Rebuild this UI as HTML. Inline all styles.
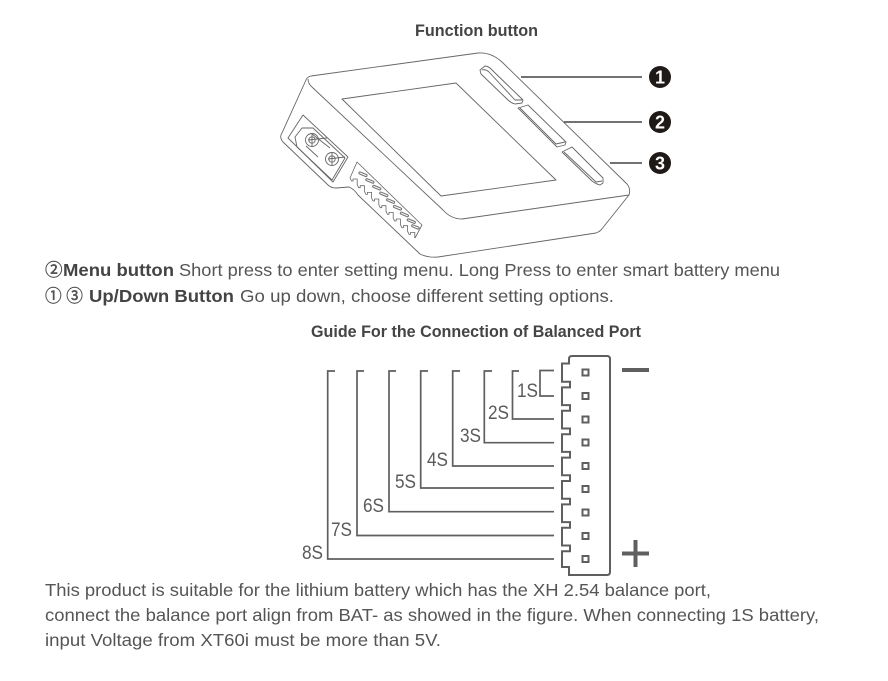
<!DOCTYPE html>
<html>
<head>
<meta charset="utf-8">
<style>
html,body{margin:0;padding:0;background:#fff;}
svg{display:block;}
text{font-family:"Liberation Sans","Noto Sans CJK SC",sans-serif;fill:#555;}
.b{font-weight:bold;fill:#444;}
.t{font-size:17.5px;}
.s{font-size:19px;fill:#5a5a5a;}
.n{font-size:18px;font-weight:bold;fill:#fff;text-anchor:middle;}
</style>
</head>
<body>
<svg width="888" height="681" viewBox="0 0 888 681" xmlns="http://www.w3.org/2000/svg">
<rect width="888" height="681" fill="#fff"/>

<text x="415" y="36" class="b" font-size="17" textLength="123" lengthAdjust="spacingAndGlyphs">Function button</text>

<!-- device -->
<g fill="none" stroke="#666" stroke-width="0.9" stroke-linejoin="round">
<path d="M311 76 L478 53 Q491 52 502 62 L627 184 Q631 189 629 195 L601 230 Q599 232 596 233 L438 257 Q428 258 420 254 L358 195 Q354 189 349 187 L336 188 Q331 188 328 185 L283 142 Q279 137 282 133 L306 80 Q307 77 311 76 Z"/>
<path d="M308 79 Q308 84 313 88 L443 210 Q451 219 462 219 L629 195"/>
<path d="M342 99 L456 83 L556 180 L441 196 Z"/>
<path d="M303 115 L348 157 L333 182 L288 138 Z"/>
<path d="M295 137 L302 128 L313 128 L345 158 L332 180 L297 147 Z"/>
<circle cx="312" cy="140" r="6.5"/><circle cx="312" cy="140" r="3.2"/>
<circle cx="332" cy="159" r="6.5"/><circle cx="332" cy="159" r="3.2"/>
<path d="M308 140 L327 138 M328 159 L345 157 M312 134 L330 148 M306 146 L318 157 M332 153 L332 165 M312 134 L312 146"/>
<path stroke-width="0.8" d="M350 178 L357 162 L422 225 L415 238 M350 178 l1.500 3 h1.500 v-2 h4.200 v5.670 l1.500 3 h1.500 v-2 h4.200 v5.670 l1.500 3 h1.500 v-2 h4.200 v5.670 l1.500 3 h1.500 v-2 h4.200 v5.670 l1.500 3 h1.500 v-2 h4.200 v5.670 l1.500 3 h1.500 v-2 h4.200 v5.670 l1.500 3 h1.500 v-2 h4.200 v5.670 l1.500 3 h1.500 v-2 h4.200 v5.670 l1.500 3 h1.500 v-2 h4.200 v5.670"/>
<path d="M480 70 L485 66 Q488 66 491 69 L523 100 L522 103 L515 104 Q511 103 508 100 L481 74 Z"/>
<path d="M482 70 Q486 69 489 72 L515 100 L522 100"/>
<path d="M518 108 L528 105 L566 142 L565 145 L557 147 Z"/>
<path d="M520 108 L556 144 L565 142"/>
<path d="M562 152 L572 147 L603 178 L603 183 L600 185 Q596 184 592 181 Z"/>
<path d="M564 152 L596 182 L602 181"/>
</g>
<g stroke-linecap="round" fill="none">
<g stroke="#777" stroke-width="3.2">
<path d="M360 173 L366 175.500"/><path d="M366.900 179.700 L372.900 182.200"/><path d="M373.800 186.400 L379.800 188.900"/><path d="M380.700 193.100 L386.700 195.600"/><path d="M387.600 199.800 L393.600 202.300"/><path d="M394.500 206.500 L400.500 209"/><path d="M401.400 213.200 L407.400 215.700"/><path d="M408.300 219.900 L414.300 222.400"/><path d="M412.700 225.800 L418 228"/>
</g>
<g stroke="#fff" stroke-width="1">
<path d="M360 173 L366 175.500"/><path d="M366.900 179.700 L372.900 182.200"/><path d="M373.800 186.400 L379.800 188.900"/><path d="M380.700 193.100 L386.700 195.600"/><path d="M387.600 199.800 L393.600 202.300"/><path d="M394.500 206.500 L400.500 209"/><path d="M401.400 213.200 L407.400 215.700"/><path d="M408.300 219.900 L414.300 222.400"/><path d="M412.700 225.800 L418 228"/>
</g>
</g>

<!-- leaders -->
<g stroke="#444" fill="none">
<path d="M521 77 H642" stroke-width="1.5"/>
<path d="M564 122 H642" stroke-width="1.5"/>
<path d="M610 163 H642" stroke-width="1.5"/>
</g>
<circle cx="660" cy="77" r="11" fill="#1f1a17"/>
<circle cx="660" cy="122" r="11" fill="#1f1a17"/>
<circle cx="660" cy="163" r="11" fill="#1f1a17"/>
<text x="660" y="83.500" class="n">1</text>
<text x="660" y="128.500" class="n">2</text>
<text x="660" y="169.500" class="n">3</text>

<!-- text -->
<text x="45" y="276" class="t" stroke="#444" stroke-width="0.4">②</text>
<text x="63" y="276" class="b t" textLength="111" lengthAdjust="spacingAndGlyphs">Menu button</text>
<text x="179" y="276" class="t" textLength="601" lengthAdjust="spacingAndGlyphs">Short press to enter setting menu. Long Press to enter smart battery menu</text>
<text x="45" y="302" class="t" stroke="#444" stroke-width="0.4" textLength="38" lengthAdjust="spacingAndGlyphs">① ③</text>
<text x="89" y="302" class="b t" textLength="145" lengthAdjust="spacingAndGlyphs">Up/Down Button</text>
<text x="240" y="302" class="t" textLength="374" lengthAdjust="spacingAndGlyphs">Go up down, choose different setting options.</text>

<text x="311" y="337" class="b" font-size="17" textLength="330" lengthAdjust="spacingAndGlyphs">Guide For the Connection of Balanced Port</text>

<!-- connection brackets -->
<g fill="none" stroke="#5f5f5f" stroke-width="1.7">
<path d="M335 371 H327.700 V559 H554"/>
<path d="M364 371 H357 V535.500 H554"/>
<path d="M396 371 H389 V511.700 H554"/>
<path d="M428 371 H420.700 V488 H554"/>
<path d="M460 371 H452.700 V466 H554"/>
<path d="M492 371 H484.300 V442.700 H554"/>
<path d="M519 371 H512.500 V419 H554"/>
<path d="M554 370.500 H540 V396 H554"/>
<path stroke-width="2" d="M569 363.500 H562 V381.700 h8 v5.700 h-8 v17.700 h8 v5.700 h-8 v17.700 h8 v5.700 h-8 v17.700 h8 v5.700 h-8 v17.700 h8 v5.700 h-8 v17.700 h8 v5.700 h-8 v17.700 h8 v5.700 h-8 v17.700 h8 v5.700 h-8 v15.800 h7 v8 H607 Q610 575 610 572 V359 Q610 356 607 356 H572 Q569 356 569 359 Z"/>
</g>
<g fill="#fff" stroke="#5f5f5f" stroke-width="2">
<rect x="582.500" y="369.500" width="6" height="6"/>
<rect x="582.500" y="393" width="6" height="6"/>
<rect x="582.500" y="416.500" width="6" height="6"/>
<rect x="582.500" y="439.500" width="6" height="6"/>
<rect x="582.500" y="463" width="6" height="6"/>
<rect x="582.500" y="486" width="6" height="6"/>
<rect x="582.500" y="509.500" width="6" height="6"/>
<rect x="582.500" y="533" width="6" height="6"/>
<rect x="582.500" y="556" width="6" height="6"/>
</g>
<rect x="622" y="368" width="27" height="4" fill="#5f5f5f"/>
<rect x="622" y="551.500" width="27" height="4" fill="#5f5f5f"/>
<rect x="633.500" y="540" width="4" height="27" fill="#5f5f5f"/>

<text x="517" y="397" class="s" textLength="21" lengthAdjust="spacingAndGlyphs">1S</text>
<text x="488" y="419" class="s" textLength="21" lengthAdjust="spacingAndGlyphs">2S</text>
<text x="460" y="442" class="s" textLength="21" lengthAdjust="spacingAndGlyphs">3S</text>
<text x="427" y="466" class="s" textLength="21" lengthAdjust="spacingAndGlyphs">4S</text>
<text x="395" y="488" class="s" textLength="21" lengthAdjust="spacingAndGlyphs">5S</text>
<text x="363" y="512" class="s" textLength="21" lengthAdjust="spacingAndGlyphs">6S</text>
<text x="331" y="536" class="s" textLength="21" lengthAdjust="spacingAndGlyphs">7S</text>
<text x="302" y="559" class="s" textLength="21" lengthAdjust="spacingAndGlyphs">8S</text>

<text x="45" y="596" class="t" textLength="666" lengthAdjust="spacingAndGlyphs">This product is suitable for the lithium battery which has the XH 2.54 balance port,</text>
<text x="45" y="621" class="t" textLength="774" lengthAdjust="spacingAndGlyphs">connect the balance port align from BAT- as showed in the figure. When connecting 1S battery,</text>
<text x="45" y="646" class="t" textLength="396" lengthAdjust="spacingAndGlyphs">input Voltage from XT60i must be more than 5V.</text>
</svg>
</body>
</html>
